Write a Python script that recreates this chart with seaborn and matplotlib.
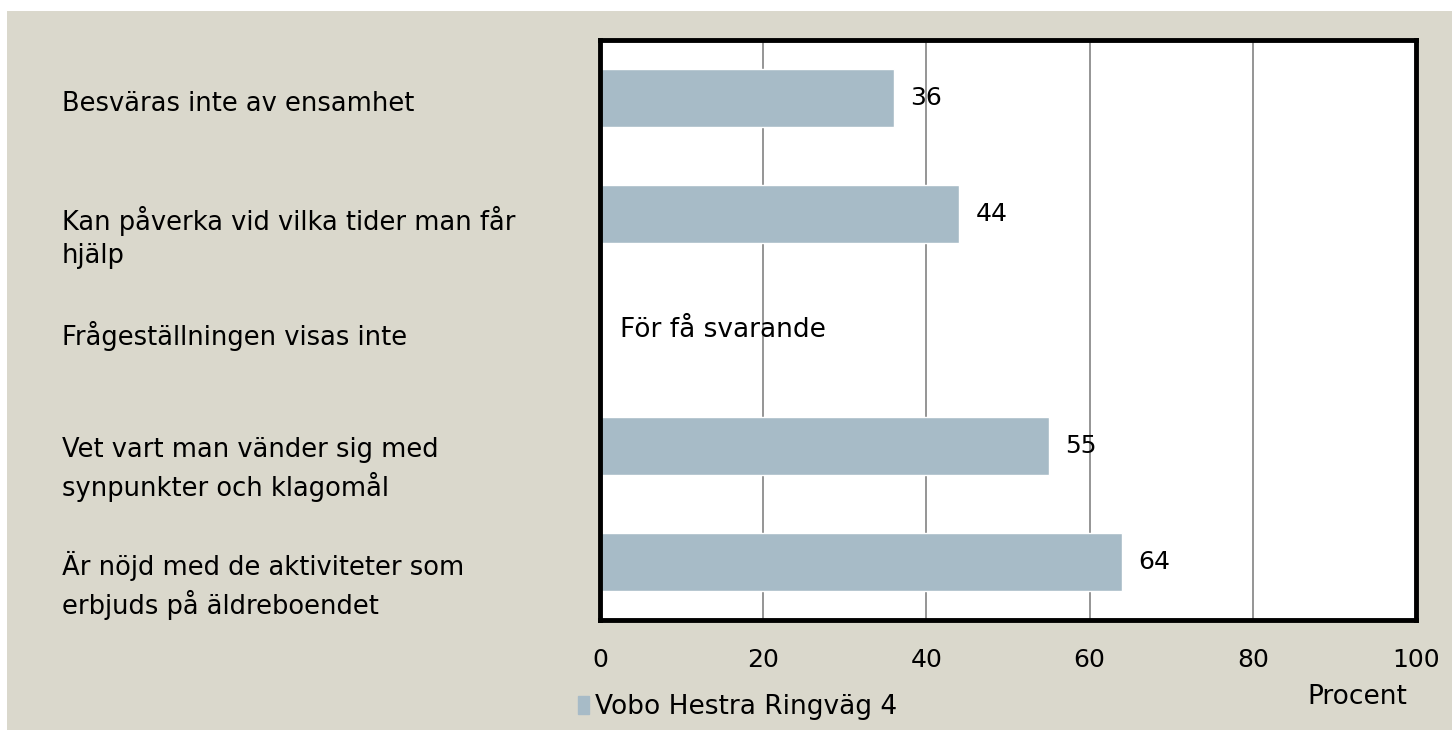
import matplotlib
matplotlib.use("Agg")
import matplotlib.pyplot as plt
import matplotlib.patches as mpatches
import matplotlib.transforms as mtransforms
import seaborn as sns
import numpy as np
import pandas as pd

categories = [
    "Besväras inte av ensamhet",
    "Kan påverka vid vilka tider man får\nhjälp",
    "Frågeställningen visas inte",
    "Vet vart man vänder sig med\nsynpunkter och klagomål",
    "Är nöjd med de aktiviteter som\nerbjuds på äldreboendet",
]
values = [36, 44, np.nan, 55, 64]
series_name = "Vobo Hestra Ringväg 4"
missing_text = "För få svarande"
xticks = [0, 20, 40, 60, 80, 100]
x_label = "Procent"

bar_color = "#A7BBC7"
bg_color = "#DAD8CC"

sns.set_theme(style="white")
plt.rcParams["font.family"] = ["DejaVu Sans"]
plt.rcParams["text.color"] = "black"
plt.rcParams["xtick.color"] = "black"

W, H = 1452, 741
fig = plt.figure(figsize=(W / 100, H / 100), dpi=100)
fig.patch.set_facecolor("white")
bg = mpatches.Rectangle((7 / W, 1 - 730 / H), (W - 7) / W, (730 - 11) / H,
                        transform=fig.transFigure, facecolor=bg_color,
                        edgecolor="none", zorder=-10)
fig.patches.append(bg)

ax = fig.add_axes([600 / W, 1 - 620 / H, 816 / W, 580 / H])
ax.set_zorder(1)
ax.set_facecolor("white")

df = pd.DataFrame({"cat": categories, "val": values})
sns.barplot(data=df, y="cat", x="val", orient="h", color=bar_color, width=0.5,
            saturation=1, ax=ax, zorder=2)

ax.set_xlim(0, 100)
ax.set_ylim(4.5, -0.5)
ax.set_xticks(xticks)
ax.set_xticklabels([str(t) for t in xticks], fontsize=18, color="black")
ax.tick_params(axis="x", length=0, pad=20)
ax.set_xlabel("")
ax.set_ylabel("")
ax.set_yticks([])
for x in xticks[1:-1]:
    ax.axvline(x, color="#8C8C8C", lw=1.3, zorder=1)

for s in ax.spines.values():
    s.set_visible(True)
    s.set_color("black")
    s.set_linewidth(3.5)

for i, v in enumerate(values):
    if np.isnan(v):
        ax.text(2.5, i, missing_text, va="center", ha="left", fontsize=19,
                color="black", zorder=3)
    else:
        ax.text(v + 2, i, f"{v:.0f}", va="center", ha="left", fontsize=18,
                color="black", zorder=3)

trans = mtransforms.blended_transform_factory(fig.transFigure, ax.transData)
for i, c in enumerate(categories):
    nlines = c.count("\n") + 1
    dy_px = 6 + (nlines - 1) * 17.5
    t = trans + mtransforms.ScaledTranslation(0, -dy_px / 100, fig.dpi_scale_trans)
    ax.text(62 / W, i, c, transform=t, ha="left", va="center",
            fontsize=18.5, linespacing=1.35, color="black", clip_on=False)

fig.text(1357 / W, 1 - 697 / H, x_label, ha="center", va="center", fontsize=19,
         color="black")

handle = mpatches.Patch(color=bar_color, label=series_name)
fig.legend(handles=[handle], loc="center left", bbox_to_anchor=(567 / W, 1 - 707 / H),
           frameon=False, fontsize=19, handlelength=0.45, handleheight=0.7,
           handletextpad=0.2, borderaxespad=0, labelcolor="black")

fig.savefig("out.png", dpi=100, facecolor="white")
